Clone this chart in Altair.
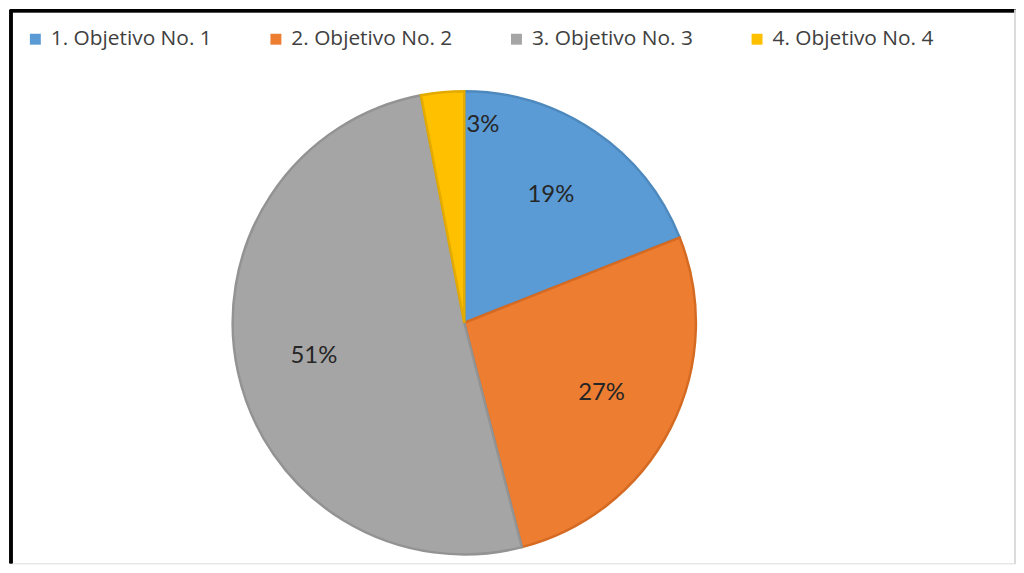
import altair as alt
import pandas as pd

categories = ["1. Objetivo No. 1", "2. Objetivo No. 2", "3. Objetivo No. 3", "4. Objetivo No. 4"]
values = [19, 27, 51, 3]
labels = ["19%", "27%", "51%", "3%"]
order = [1, 2, 3, 4]

fill_colors = ["#5B9BD5", "#ED7D31", "#A5A5A5", "#FFC000"]
stroke_colors = ["#4E89BE", "#D56A22", "#939393", "#E3AA00"]

df = pd.DataFrame({"cat": categories, "value": values, "label": labels, "order": order})

W, H = 1012, 557
CX, CY, R = 457, 315, 233

base = alt.Chart(df).encode(
    theta=alt.Theta("value:Q", stack=True),
    order=alt.Order("order:Q"),
)

pie = base.mark_arc(outerRadius=R, strokeWidth=2.5).encode(
    x=alt.value(CX),
    y=alt.value(CY),
    color=alt.Color(
        "cat:N",
        scale=alt.Scale(domain=categories, range=fill_colors),
        sort=categories,
        legend=alt.Legend(
            title=None,
            orient="none",
            legendX=15,
            legendY=19,
            direction="horizontal",
            symbolType="square",
            symbolSize=121,
            symbolStrokeWidth=0,
            symbolOpacity=1,
            labelFont="Open Sans",
            labelFontSize=21,
            labelColor="#404040",
            labelOffset=5,
            columnPadding=53,
            labelLimit=300,
        ),
    ),
    stroke=alt.Stroke(
        "cat:N",
        scale=alt.Scale(domain=categories, range=stroke_colors),
        legend=None,
    ),
)

text = base.transform_calculate(
    r="datum.value < 5 ? 200 : 155"
).mark_text(font="Lato", fontSize=24, color="#262626").encode(
    x=alt.value(CX),
    y=alt.value(CY),
    radius=alt.Radius("r:Q", scale=None),
    text="label:N",
)

top_rule = alt.Chart(df).mark_rule(color="#000000", strokeWidth=3).encode(
    x=alt.value(0), x2=alt.value(W), y=alt.value(1)
)
left_rule = alt.Chart(df).mark_rule(color="#000000", strokeWidth=3).encode(
    x=alt.value(1), y=alt.value(0), y2=alt.value(H)
)
right_rule = alt.Chart(df).mark_rule(color="#D9D9D9", strokeWidth=1).encode(
    x=alt.value(W - 1), y=alt.value(0), y2=alt.value(H)
)

chart = alt.layer(top_rule, left_rule, right_rule, pie, text).properties(
    width=W,
    height=H,
    padding={"left": 2, "top": 0, "right": 0, "bottom": 0},
    autosize=alt.AutoSizeParams(type="none"),
).configure_view(stroke=None).configure(background="#FFFFFF")

chart.save("out.html", embed_options={"renderer": "svg", "actions": False})
